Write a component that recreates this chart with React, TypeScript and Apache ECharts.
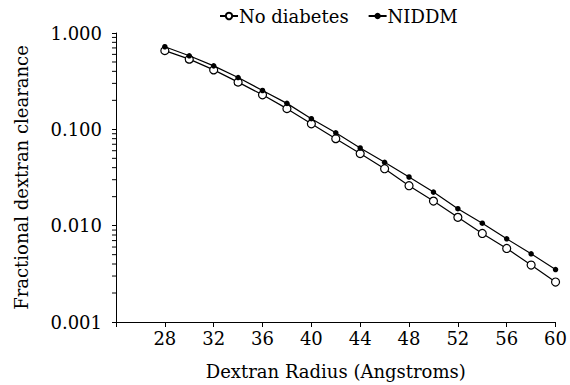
import React, { useEffect, useRef } from "react";
import * as echarts from "echarts";

const radii = [28, 30, 32, 34, 36, 38, 40, 42, 44, 46, 48, 50, 52, 54, 56, 58, 60];
const noDiabetes = [0.656, 0.535, 0.414, 0.309, 0.228, 0.164, 0.114, 0.08, 0.056, 0.039, 0.026, 0.018, 0.0122, 0.0083, 0.0058, 0.0039, 0.0026];
const niddm = [0.72, 0.58, 0.456, 0.345, 0.253, 0.186, 0.129, 0.092, 0.064, 0.0455, 0.032, 0.0223, 0.015, 0.0106, 0.0073, 0.0051, 0.0035];
const minorTickValues = [
  0.002, 0.003, 0.004, 0.005, 0.006, 0.007, 0.008, 0.009,
  0.02, 0.03, 0.04, 0.05, 0.06, 0.07, 0.08, 0.09,
  0.2, 0.3, 0.4, 0.5, 0.6, 0.7, 0.8, 0.9,
];

const FONT = "DejaVu Serif";
const FS = 18;

export default function App() {
  const ref = useRef<HTMLDivElement>(null);
  useEffect(() => {
    document.body.style.margin = "0";
    if (!ref.current) return;
    const chart = echarts.init(ref.current, null, { renderer: "svg" });
    chart.setOption({
      animation: false,
      backgroundColor: "#fff",
      textStyle: { fontFamily: FONT, color: "#000" },
      legend: {
        top: 2,
        left: 214,
        itemWidth: 18,
        itemHeight: 8,
        itemGap: 19,
        textStyle: { fontFamily: FONT, fontSize: FS, color: "#000", padding: [0, 0, 0, -4] },
        data: ["No diabetes", "NIDDM"],
      },
      grid: { left: 116, right: 13, top: 33, bottom: 62 },
      xAxis: {
        type: "value",
        min: 24,
        max: 60,
        interval: 4,
        name: "Dextran Radius (Angstroms)",
        nameLocation: "middle",
        nameGap: 40,
        nameTextStyle: { fontFamily: FONT, fontSize: FS, color: "#000" },
        axisLine: { lineStyle: { color: "#000", width: 1 } },
        axisTick: { inside: false, length: 5, lineStyle: { color: "#000" } },
        axisLabel: {
          fontFamily: FONT,
          fontSize: FS,
          color: "#000",
          margin: 7,
          formatter: (v: number) => (v === 24 ? "" : String(v)),
        },
        splitLine: { show: false },
      },
      yAxis: {
        type: "log",
        logBase: 10,
        min: 0.001,
        max: 1,
        name: "Fractional dextran clearance",
        nameLocation: "middle",
        nameGap: 86,
        nameTextStyle: { fontFamily: FONT, fontSize: FS, color: "#000" },
        axisLine: { show: true, lineStyle: { color: "#000", width: 1 } },
        axisTick: { show: true, inside: false, length: 4, lineStyle: { color: "#000" } },
        axisLabel: {
          fontFamily: FONT,
          fontSize: FS,
          color: "#000",
          margin: 14,
          formatter: (v: number) => v.toFixed(3),
        },
        splitLine: { show: false },
      },
      series: [
        {
          name: "No diabetes",
          type: "line",
          data: radii.map((r, i) => [r, noDiabetes[i]]),
          symbol: "circle",
          symbolSize: 8,
          itemStyle: { color: "#fff", borderColor: "#000", borderWidth: 1.2 },
          lineStyle: { color: "#000", width: 1.2 },
          z: 3,
        },
        {
          name: "NIDDM",
          type: "line",
          data: radii.map((r, i) => [r, niddm[i]]),
          symbol: "circle",
          symbolSize: 5.5,
          itemStyle: { color: "#000", borderColor: "#000", borderWidth: 0 },
          lineStyle: { color: "#000", width: 1.2 },
          z: 4,
        },
        {
          type: "custom",
          silent: true,
          clip: false,
          data: minorTickValues.map((v) => [24, v]),
          renderItem: (params: any, api: any) => {
            const p = api.coord([24, api.value(1)]);
            return {
              type: "line",
              shape: { x1: p[0] - 4, y1: p[1], x2: p[0], y2: p[1] },
              style: { stroke: "#000", lineWidth: 1 },
            };
          },
          z: 1,
        },
      ],
    });
    return () => chart.dispose();
  }, []);
  return <div ref={ref} style={{ width: 570, height: 385 }} />;
}
